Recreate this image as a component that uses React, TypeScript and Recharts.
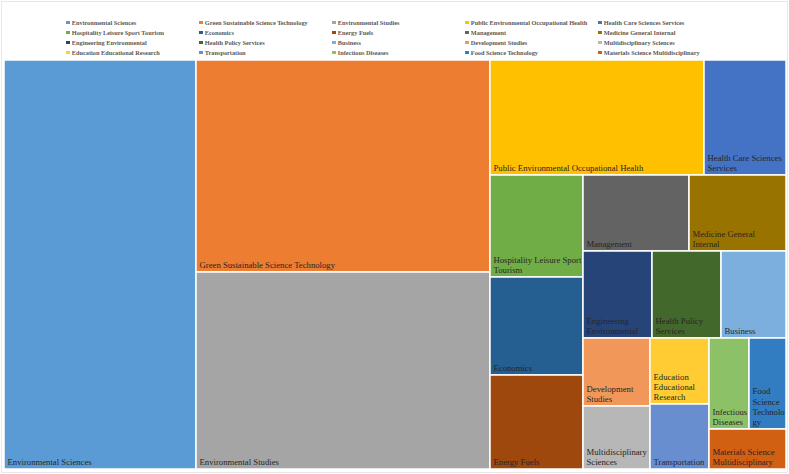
import React from 'react'
import { Treemap } from 'recharts'

// categories in Excel's (descending) order
const categories = [
  'Environmental Sciences',
  'Green Sustainable Science Technology',
  'Environmental Studies',
  'Public Environmental Occupational Health',
  'Health Care Sciences Services',
  'Hospitality Leisure Sport Tourism',
  'Economics',
  'Energy Fuels',
  'Management',
  'Medicine General Internal',
  'Engineering Environmental',
  'Health Policy Services',
  'Business',
  'Development Studies',
  'Multidisciplinary Sciences',
  'Education Educational Research',
  'Transportation',
  'Infectious Diseases',
  'Food Science Technology',
  'Materials Science Multidisciplinary',
]

const counts = [1567, 1239, 1156, 490, 189, 188, 182, 175, 161, 146, 119, 119, 110, 90, 83, 77, 75, 74, 67, 63]

// label text as Excel wraps it inside the cells
const cellLabels = [
  'Environmental Sciences',
  'Green Sustainable Science Technology',
  'Environmental Studies',
  'Public Environmental Occupational Health',
  'Health Care Sciences\nServices',
  'Hospitality Leisure Sport\nTourism',
  'Economics',
  'Energy Fuels',
  'Management',
  'Medicine General\nInternal',
  'Engineering\nEnvironmental',
  'Health Policy\nServices',
  'Business',
  'Development\nStudies',
  'Multidisciplinary\nSciences',
  'Education\nEducational\nResearch',
  'Transportation',
  'Infectious\nDiseases',
  'Food\nScience\nTechnolo\ngy',
  'Materials Science\nMultidisciplinary',
]

const colors = [
  '#5B9BD5', '#ED7D31', '#A5A5A5', '#FFC000', '#4472C4',
  '#70AD47', '#255E91', '#9E480E', '#636363', '#997300',
  '#264478', '#43682B', '#7CAFDD', '#F1975A', '#B7B7B7',
  '#FFCD33', '#698ED0', '#8CC168', '#327DC2', '#D26012',
]

// nested groups only steer recharts' squarify into the same slicing order excel uses
const leaf = (i: number) => ({ name: categories[i], size: counts[i], idx: i })
const group = (name: string, children: any[]) => ({ name, children })
const range = (a: number, b: number) => Array.from({ length: b - a }, (_, k) => a + k)

const treeData = [
  leaf(0),
  group('rest', [
    leaf(1),
    leaf(2),
    group('right', [
      group('top', [leaf(3), leaf(4)]),
      group('lower', [
        leaf(5),
        leaf(6),
        leaf(7),
        group('inner', [
          group('row', [leaf(8), leaf(9)]),
          group('small', [...range(10, 17).map(leaf), group('corner', range(17, 20).map(leaf))]),
        ]),
      ]),
    ]),
  ]),
]

const FONT = "'Liberation Serif', 'Times New Roman', serif"

function CellContent(props: any) {
  const { x, y, width, height, children, idx } = props
  if ((Array.isArray(children) && children.length > 0) || idx === undefined) return <g />
  const lines = cellLabels[idx].split('\n')
  const base = y + height - 4
  return (
    <g>
      <rect x={x} y={y} width={width} height={height} fill={colors[idx]} stroke="#fff" strokeWidth={1.5} />
      <text x={x + 3.5} fontFamily={FONT} fontSize={8.7} fill="#262626">
        {lines.map((l, k) => (
          <tspan key={k} x={x + 3.5} y={base - (lines.length - 1 - k) * 10.2}>
            {l}
          </tspan>
        ))}
      </text>
    </g>
  )
}

function Legend() {
  return (
    <>
      {categories.map((c, i) => {
        const col = i % 5
        const row = Math.floor(i / 5)
        return (
          <div
            key={c}
            style={{
              position: 'absolute',
              left: 66 + col * 133,
              top: 22.7 + row * 9.85 - 5,
              height: 10,
              display: 'flex',
              alignItems: 'center',
              whiteSpace: 'nowrap',
              fontFamily: FONT,
              fontWeight: 700,
              fontSize: 6.3,
              color: '#595959',
            }}
          >
            <span style={{ width: 3.5, height: 3.5, background: colors[i], marginRight: 2.3, display: 'inline-block' }} />
            {c}
          </div>
        )
      })}
    </>
  )
}

export default function App() {
  return (
    <div style={{ position: 'absolute', left: 0, top: 0, width: 789, height: 474, background: '#fff', overflow: 'hidden' }}>
      <div style={{ position: 'absolute', left: 1, top: 1, width: 785, height: 470, border: '1px solid #e8e8e8' }} />
      <Legend />
      <div style={{ position: 'absolute', left: 4, top: 60 }}>
        <Treemap
          width={782}
          height={409}
          data={treeData}
          dataKey="size"
          aspectRatio={1.3}
          isAnimationActive={false}
          content={(p: any) => <CellContent {...p} />}
        />
      </div>
    </div>
  )
}
